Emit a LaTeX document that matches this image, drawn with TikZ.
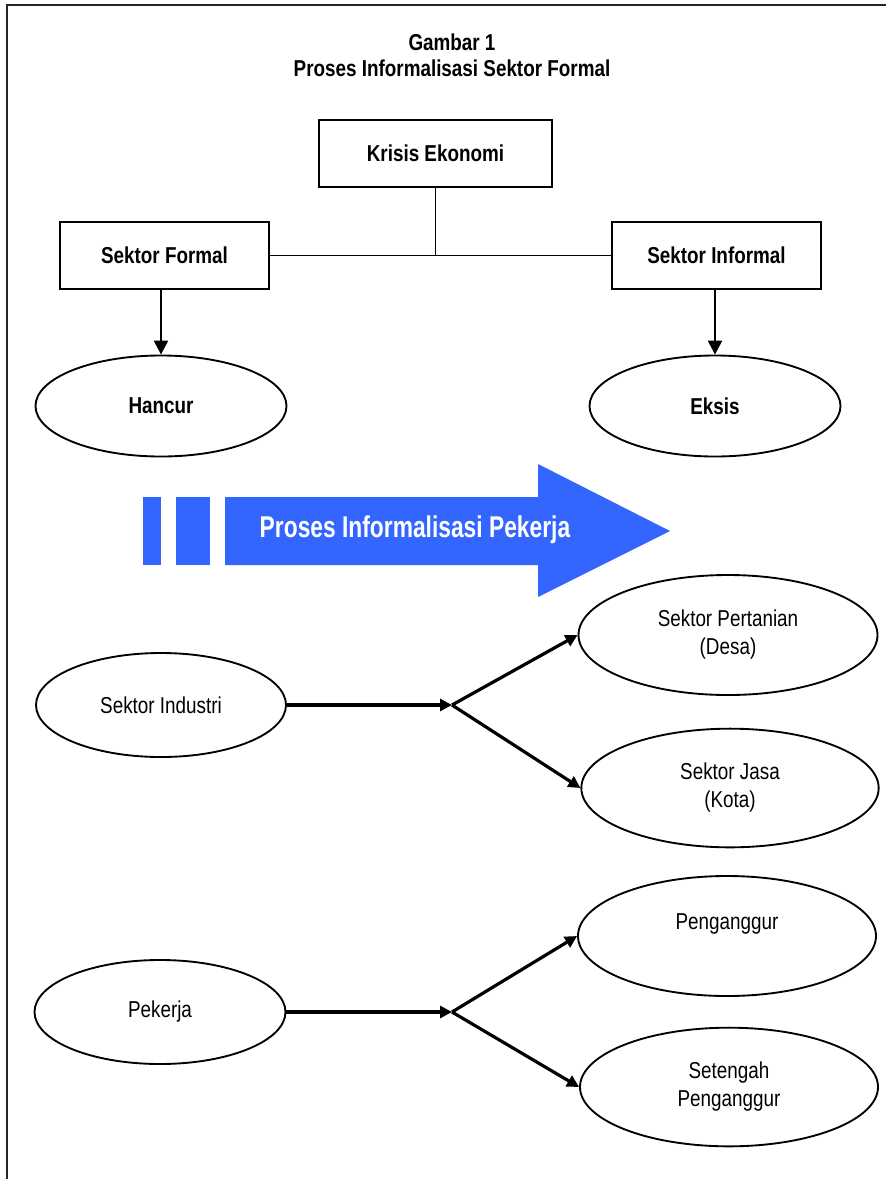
\documentclass[tikz,border=0pt]{standalone}
\usepackage{fontspec}
\setmainfont{Liberation Sans}[FakeStretch=0.82]
\newfontfamily\arrowfont{Liberation Sans}[FakeStretch=0.76]
\usepackage{tikz}
\usetikzlibrary{arrows.meta, shapes.geometric}
\definecolor{panahbiru}{RGB}{51,102,255}

\begin{document}
\begin{tikzpicture}[x=0.75pt, y=-0.75pt,
  kotak/.style = {draw, line width=1.5pt, inner sep=0pt, minimum width=156.75pt, minimum height=50.25pt, font=\bfseries\fontsize{17.25}{21}\selectfont},
  elips/.style = {draw, ellipse, line width=1.4pt, inner sep=0pt, align=center, font=\fontsize{17.25}{21}\selectfont},
  panah/.style = {line width=1.8pt, -{Triangle[length=10.5pt, width=10.5pt]}},
  cabang/.style = {line width=2.4pt, -{Triangle[length=9pt, width=9pt]}}]
\useasboundingbox (0,0) rectangle (886,1179);
\draw[line width=1.5pt, black!85] (7,1179) -- (7,5) -- (886,5);
\node[font=\bfseries\fontsize{17.25}{21}\selectfont] (judul1) at (452,42) {Gambar 1};
\node[font=\bfseries\fontsize{17.25}{21}\selectfont] (judul2) at (452,68) {Proses Informalisasi Sektor Formal};
% kotak atas
\node[kotak, minimum width=174.75pt] (krisis) at (435.5,153.5) {Krisis Ekonomi};
\node[kotak] (formal) at (164.5,255.5) {Sektor Formal};
\node[kotak] (informal) at (716.5,255.5) {Sektor Informal};
\draw[line width=1.4pt] (krisis.south) -- (krisis.south |- formal.east);
\draw[line width=1.4pt] (formal.east) -- (informal.west);
\node[elips, minimum width=188.25pt, minimum height=75.75pt, font=\bfseries\fontsize{17.25}{21}\selectfont] (hancur) at (161,406) {Hancur};
\node[elips, minimum width=188.25pt, minimum height=75.75pt, font=\bfseries\fontsize{17.25}{21}\selectfont] (eksis) at (715,406) {Eksis};
\draw[panah] (formal.south -| hancur.north) -- (hancur.north);
\draw[panah] (informal.south -| eksis.north) -- (eksis.north);
% panah biru
\fill[panahbiru] (143,497) rectangle (161,565);
\fill[panahbiru] (176,497) rectangle (210,565);
\fill[panahbiru] (225,497) -- (538,497) -- (538,464) -- (670,531) -- (538,597) -- (538,565) -- (225,565) -- cycle;
\node[text=white, font=\arrowfont\bfseries\fontsize{22.5}{27}\selectfont] (proses) at (415,530) {Proses Informalisasi Pekerja};
% sektor industri
\node[elips, minimum width=187.5pt, minimum height=78pt] (industri) at (161,705) {Sektor Industri};
\node[elips, minimum width=224.25pt, minimum height=90pt] (tani) at (728,635) {Sektor Pertanian\\(Desa)};
\node[elips, minimum width=223pt, minimum height=89pt] (jasa) at (730,788) {Sektor Jasa\\(Kota)};
\coordinate (pisah1) at (452,705);
\draw[cabang] (industri.east) -- (pisah1);
\draw[cabang] (pisah1) -- (tani.west);
\draw[cabang] (pisah1) -- (jasa.west);
% pekerja
\node[elips, minimum width=188.25pt, minimum height=78pt] (pekerja) at (160,1012) {Pekerja};
\node[elips, minimum width=223.5pt, minimum height=90pt] (nganggur) at (727,936) {Penganggur\\\mbox{}};
\node[elips, minimum width=223.5pt, minimum height=89pt] (setengah) at (729,1087) {Setengah\\Penganggur};
\coordinate (pisah2) at (452,1012);
\draw[cabang] (pekerja.east) -- (pisah2);
\draw[cabang] (pisah2) -- (nganggur.west);
\draw[cabang] (pisah2) -- (setengah.west);
\end{tikzpicture}
\end{document}
